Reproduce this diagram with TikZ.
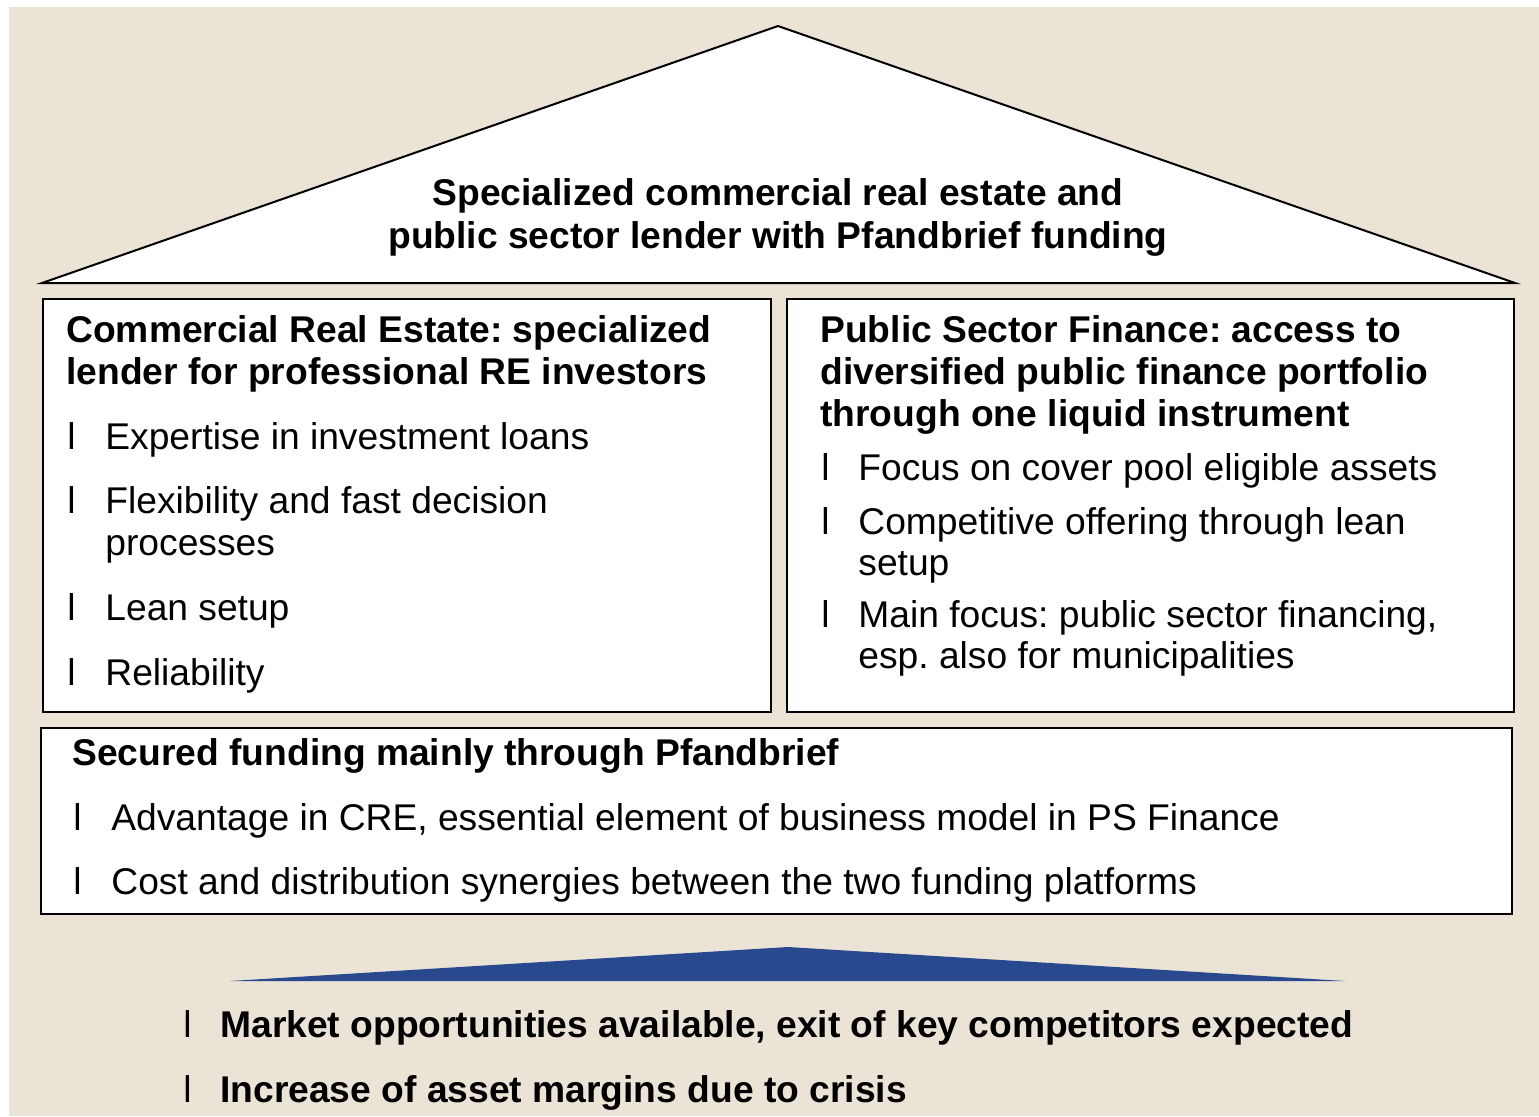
\documentclass[tikz,border=0pt]{standalone}
\usepackage{fontspec}
\setmainfont{Liberation Sans}
\usepackage{tikz}
\frenchspacing

\definecolor{sand}{RGB}{234,227,214}
\definecolor{navy}{RGB}{41,73,143}

\tikzset{
    panel/.style={draw=black, line width=1pt, fill=white},
    txt/.style={anchor=base west, inner sep=0pt, font=\fontsize{18.6}{21}\selectfont},
    hd/.style={txt, font=\fontsize{18.6}{21}\selectfont\bfseries},
    bul/.style={txt}
}

\begin{document}
\begin{tikzpicture}[x=0.5pt, y=-0.5pt]
    % page and background
    \useasboundingbox (0,0) rectangle (1539,1116);
    \fill[white] (0,0) rectangle (1539,1116);
    \fill[sand] (9,7) rectangle (1539,1116);

    % roof
    \filldraw[panel, line join=miter] (42,283) -- (778,26) -- (1515,283) -- cycle;
    \node[hd, anchor=base] (roof1) at (778,205) {Specialized commercial real estate and};
    \node[hd, anchor=base] (roof2) at (778,248) {public sector lender with Pfandbrief funding};

    % two pillars
    \draw[panel] (43,299) rectangle (771,712);
    \draw[panel] (787,299) rectangle (1514,712);

    % left pillar: commercial real estate
    \node[hd] (cre1) at (66,342) {Commercial Real Estate: specialized};
    \node[hd] (cre2) at (66,384) {lender for professional RE investors};
    \node[bul] (creb1) at (67,449) {l};
    \node[txt] (cret1) at (105,449) {Expertise in investment loans};
    \node[bul] (creb2) at (67,513) {l};
    \node[txt] (cret2) at (105,513) {Flexibility and fast decision};
    \node[txt] (cret2b) at (105,555) {processes};
    \node[bul] (creb3) at (67,620) {l};
    \node[txt] (cret3) at (105,620) {Lean setup};
    \node[bul] (creb4) at (67,685) {l};
    \node[txt] (cret4) at (105,685) {Reliability};

    % right pillar: public sector finance
    \node[hd] (psf1) at (820,342) {Public Sector Finance: access to};
    \node[hd] (psf2) at (820,384) {diversified public finance portfolio};
    \node[hd] (psf3) at (820,426) {through one liquid instrument};
    \node[bul] (psfb1) at (821,480) {l};
    \node[txt] (psft1) at (858,480) {Focus on cover pool eligible assets};
    \node[bul] (psfb2) at (821,534) {l};
    \node[txt] (psft2) at (858,534) {Competitive offering through lean};
    \node[txt] (psft2b) at (858,575) {setup};
    \node[bul] (psfb3) at (821,627) {l};
    \node[txt] (psft3) at (858,627) {Main focus: public sector financing,};
    \node[txt] (psft3b) at (858,668) {esp. also for municipalities};

    % foundation: funding
    \draw[panel] (41,728) rectangle (1512,914);
    \node[hd] (fund) at (72,765) {Secured funding mainly through Pfandbrief};
    \node[bul] (fundb1) at (73,830) {l};
    \node[txt] (fundt1) at (111,830) {Advantage in CRE, essential element of business model in PS Finance};
    \node[bul] (fundb2) at (73,894) {l};
    \node[txt] (fundt2) at (111,894) {Cost and distribution synergies between the two funding platforms};

    % ground wedge
    \fill[navy] (230,981) -- (788,947) -- (1345,981) -- cycle;

    % market outlook
    \node[bul] (mktb1) at (183,1037) {l};
    \node[hd] (mkt1) at (220,1037) {Market opportunities available, exit of key competitors expected};
    \node[bul] (mktb2) at (183,1102) {l};
    \node[hd] (mkt2) at (220,1102) {Increase of asset margins due to crisis};
\end{tikzpicture}
\end{document}
